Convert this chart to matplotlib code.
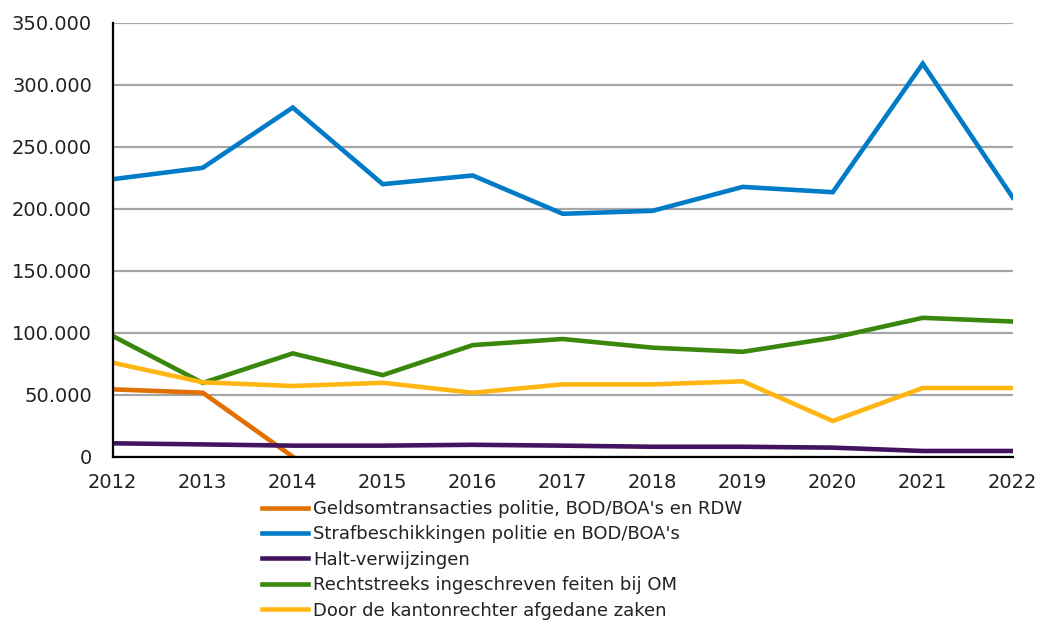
import numpy as np
import matplotlib
matplotlib.use('Agg')
import matplotlib.pyplot as plt
from matplotlib.ticker import FuncFormatter

jaren = [2012, 2013, 2014, 2015, 2016, 2017, 2018, 2019, 2020, 2021, 2022]

geldsom = [54300, 51600, 0] + [np.nan] * 8
strafbeschikkingen = [223800, 233000, 281600, 219800, 226800, 195900, 198300, 217600, 213300, 317000, 209000]
halt = [10800, 9900, 8900, 8900, 9600, 8900, 8000, 8000, 7300, 4600, 4600]
rechtstreeks = [97300, 59500, 83300, 65800, 90000, 94900, 87900, 84600, 95900, 112000, 109000]
kantonrechter = [75800, 60000, 57000, 59600, 51600, 58300, 58300, 60800, 28800, 55400, 55400]

labels = [
    "Geldsomtransacties politie, BOD/BOA's en RDW",
    "Strafbeschikkingen politie en BOD/BOA's",
    "Halt-verwijzingen",
    "Rechtstreeks ingeschreven feiten bij OM",
    "Door de kantonrechter afgedane zaken",
]
kleuren = ['#E17000', '#007BC7', '#42145F', '#39870C', '#FFB612']
reeksen = [geldsom, strafbeschikkingen, halt, rechtstreeks, kantonrechter]

plt.rcParams['font.family'] = ['DejaVu Sans']

fig = plt.figure(figsize=(10.4, 6.21), dpi=100)
ax = fig.add_axes([0.1084, 0.2646, 0.8654, 0.6988])

for waarden, kleur, label in zip(reeksen, kleuren, labels):
    ax.plot(jaren, waarden, color=kleur, linewidth=3.3, label=label,
            solid_joinstyle='miter', zorder=3)

ax.set_xlim(2012, 2022)
ax.set_ylim(0, 350000)
ax.set_xticks(jaren)
ax.set_yticks(range(0, 350001, 50000))
ax.yaxis.set_major_formatter(FuncFormatter(lambda v, p: f'{int(v):,}'.replace(',', '.')))

ax.grid(axis='y', color='#a6a6a6', linewidth=1.6, zorder=0)
ax.set_axisbelow(True)
for side in ['top', 'right']:
    ax.spines[side].set_visible(False)
ax.spines['left'].set_linewidth(1.6)
ax.spines['bottom'].set_linewidth(1.6)
ax.spines['left'].set_zorder(4)
ax.spines['bottom'].set_zorder(4)
ax.tick_params(axis='both', length=0, labelsize=14, colors='#222222')
ax.tick_params(axis='y', pad=15)
ax.tick_params(axis='x', pad=12)

leg = fig.legend(loc='upper left', bbox_to_anchor=(0.252, 0.195), frameon=False,
                 fontsize=13, handlelength=2.55, handletextpad=0.28, labelspacing=0.41,
                 borderpad=0, borderaxespad=0)
for t in leg.get_texts():
    t.set_color('#222222')

fig.savefig('out.png', dpi=100)
